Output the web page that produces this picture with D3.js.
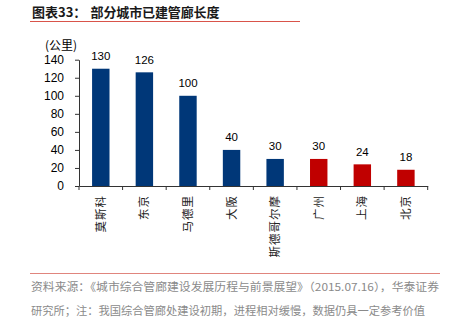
<!DOCTYPE html>
<html>
<head>
<meta charset="utf-8">
<script src="https://cdn.jsdelivr.net/npm/d3@7"></script>
<style>
  html, body { margin: 0; padding: 0; background: #fff; }
  svg { display: block; }
  text { font-family: "Liberation Sans", Arial, "Noto Sans CJK SC", sans-serif; }
  .cjk { font-family: "Noto Sans CJK SC", sans-serif; }
</style>
</head>
<body>
<svg id="chart" width="456" height="331"></svg>
<script>
const categories = ["莫斯科", "东京", "马德里", "大阪", "斯德哥尔摩", "广州", "上海", "北京"];
const values = [130, 126, 100, 40, 30, 30, 24, 18];
const domesticCities = ["广州", "上海", "北京"];
const yTicks = [0, 20, 40, 60, 80, 100, 120, 140];
const titleLabel = "图表33：";
const titleText = "部分城市已建管廊长度";
const unitLabel = "(公里)";
const sourceLines = [
  "资料来源：《城市综合管廊建设发展历程与前景展望》（2015.07.16），华泰证券",
  "研究所；注：我国综合管廊处建设初期，进程相对缓慢，数据仍具一定参考价值"
];

const svg = d3.select("#chart");
const blue = "#003778", red = "#C00000";

const plotLeft = 79, plotRight = 427.7, plotTop = 59.7, plotBottom = 186;

const x = d3.scaleBand().domain(categories).range([plotLeft, plotRight])
  .paddingInner(0.6).paddingOuter(0.3);
const y = d3.scaleLinear().domain([0, 140]).range([plotBottom, plotTop]);

// Title
svg.append("text").attr("x", 32).attr("y", 16.5)
  .attr("font-size", 13).attr("font-weight", "bold").attr("class", "cjk")
  .attr("fill", "#1a1a1a").text(titleLabel);
svg.append("text").attr("x", 90.5).attr("y", 16.5)
  .attr("font-size", 13).attr("font-weight", "bold").attr("class", "cjk")
  .attr("textLength", 129).attr("lengthAdjust", "spacing")
  .attr("fill", "#1a1a1a").text(titleText);
svg.append("line").attr("x1", 30).attr("x2", 300).attr("y1", 21.5).attr("y2", 21.5)
  .attr("stroke", "#d9534a").attr("stroke-width", 1.2);

// Unit label
svg.append("text").attr("x", 45).attr("y", 49.5).attr("font-size", 12)
  .attr("fill", "#000").attr("class", "cjk").text(unitLabel);

// Y axis
const yAxis = svg.append("g").attr("transform", `translate(${plotLeft},0)`)
  .call(d3.axisLeft(y).tickValues(yTicks).tickSize(4).tickPadding(11).tickSizeOuter(0));
yAxis.selectAll("text").attr("font-size", 12).attr("fill", "#000")
  .attr("font-family", "Liberation Sans, Arial, sans-serif");
yAxis.selectAll("line").attr("stroke", "#333");
yAxis.select(".domain").attr("stroke", "#333");

// Bars
svg.append("g").selectAll("rect").data(categories).join("rect")
  .attr("x", d => x(d))
  .attr("width", x.bandwidth())
  .attr("y", (d, i) => y(values[i]))
  .attr("height", (d, i) => y(0) - y(values[i]))
  .attr("fill", d => domesticCities.includes(d) ? red : blue);

// Value labels
svg.append("g").selectAll("text").data(categories).join("text")
  .attr("x", d => x(d) + x.bandwidth() / 2)
  .attr("y", (d, i) => y(values[i]) - 8.5)
  .attr("text-anchor", "middle").attr("font-size", 11.5).attr("fill", "#000")
  .text((d, i) => values[i]);

// X axis
const xAxis = svg.append("g").attr("transform", `translate(0,${plotBottom})`)
  .call(d3.axisBottom(x).tickSize(0).tickFormat(""));
xAxis.select(".domain").attr("stroke", "#333");
const step = x.step();
const boundaries = d3.range(categories.length + 1).map(i => plotLeft + i * step);
xAxis.selectAll("line.bound").data(boundaries).join("line").attr("class", "bound")
  .attr("x1", d => d).attr("x2", d => d).attr("y1", 0).attr("y2", 4)
  .attr("stroke", "#333");

// Category labels (rotated)
svg.append("g").selectAll("text").data(categories).join("text")
  .attr("class", "cjk")
  .attr("transform", d => `translate(${x(d) + x.bandwidth() / 2},195) rotate(-90)`)
  .attr("text-anchor", "end").attr("dy", "0.35em")
  .attr("font-size", 11.5).attr("fill", "#222")
  .attr("letter-spacing", 1)
  .text(d => d);

// Bottom line and source
svg.append("line").attr("x1", 30).attr("x2", 440).attr("y1", 273.5).attr("y2", 273.5)
  .attr("stroke", "#e0857d").attr("stroke-width", 1.2);
svg.append("text").attr("class", "cjk").attr("x", 31).attr("y", 291)
  .attr("font-size", 11).attr("fill", "#8a8a8a")
  .attr("textLength", 408).attr("lengthAdjust", "spacingAndGlyphs").text(sourceLines[0]);
svg.append("text").attr("class", "cjk").attr("x", 31).attr("y", 315)
  .attr("font-size", 11).attr("fill", "#8a8a8a")
  .attr("textLength", 394).attr("lengthAdjust", "spacingAndGlyphs").text(sourceLines[1]);
</script>
</body>
</html>
